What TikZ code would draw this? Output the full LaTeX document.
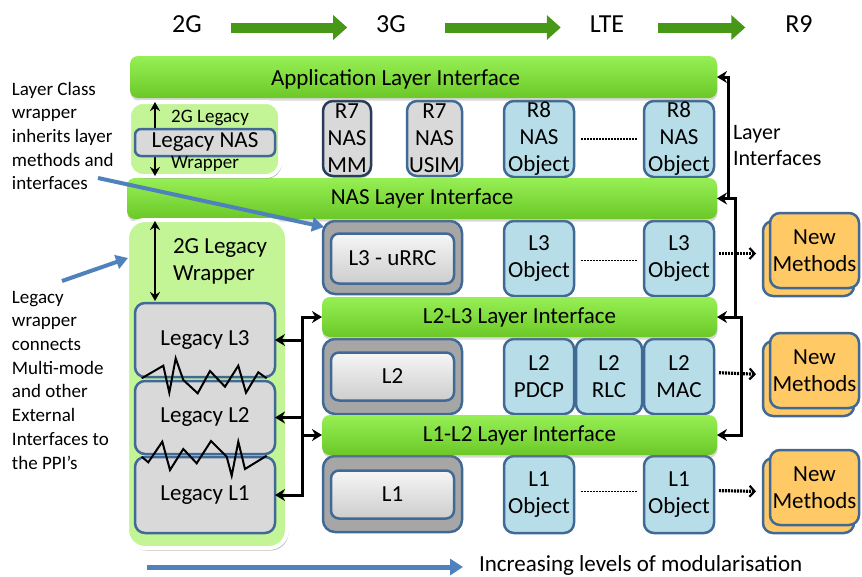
\documentclass[tikz,border=0pt]{standalone}
\usepackage{fontspec}
\setmainfont{Carlito}
\usetikzlibrary{arrows.meta,shadows,calc}
\definecolor{barTop}{RGB}{150,240,85}
\definecolor{barBot}{RGB}{108,200,40}
\definecolor{bordBlue}{RGB}{65,105,150}
\definecolor{mmBorder}{RGB}{40,60,90}
\definecolor{grayFill}{RGB}{217,217,217}
\definecolor{darkGray}{RGB}{166,166,166}
\definecolor{innerTop}{RGB}{246,246,246}
\definecolor{innerBot}{RGB}{205,205,205}
\definecolor{objBlue}{RGB}{183,222,232}
\definecolor{wrapGreen}{RGB}{195,245,150}
\definecolor{nmOrange}{RGB}{255,201,102}
\definecolor{arrBlue}{RGB}{79,129,189}
\definecolor{arrGreen}{RGB}{72,152,24}
\begin{document}
\begin{tikzpicture}[x=1pt,y=-1pt,
  every node/.style={inner sep=0pt, outer sep=0pt, align=center,
    font=\fontsize{23}{27}\selectfont},
  bar/.style={rounded corners=8pt, top color=barTop, bottom color=barBot,
    drop shadow={shadow xshift=0.5pt, shadow yshift=-2.5pt, opacity=0.3}},
  obj/.style={rounded corners=10pt, fill=objBlue, draw=bordBlue, line width=2.5pt},
  gbox/.style={rounded corners=10pt, fill=grayFill, draw=bordBlue, line width=2.5pt},
  outerbox/.style={rounded corners=12pt, fill=darkGray, draw=bordBlue, line width=2.5pt},
  innerbox/.style={rounded corners=8pt, top color=innerTop, bottom color=innerBot,
    draw=bordBlue, line width=2.5pt},
  wrap/.style={rounded corners=14pt, fill=wrapGreen, draw=white, line width=4pt,
    drop shadow={shadow xshift=1.5pt, shadow yshift=-2.5pt, opacity=0.5, fill=black!55}},
  nm/.style={rounded corners=10pt, fill=nmOrange, draw=bordBlue, line width=2.5pt},
  conn/.style={line width=3pt, draw=black},
  tip/.tip={Stealth[length=10pt,width=12pt]},
  dblarrow/.style={line width=2.5pt, {Stealth[length=9pt,width=10pt]}-{Stealth[length=9pt,width=10pt]}},
  garrow/.style={line width=10pt, draw=arrGreen, -{Triangle[length=14pt,width=24pt]}},
  barrow/.style={line width=4pt, draw=arrBlue, -{Triangle[length=12pt,width=14pt]}},
  dots/.style={line width=1.8pt, dash pattern=on 1.5pt off 1.5pt},
  darrow/.style={line width=3.2pt, dash pattern=on 2pt off 1pt, -{Straight Barb[length=5pt,width=11pt,line width=2.2pt]}},
  zig/.style={line width=2pt, line join=miter},
  ann/.style={align=left, font=\fontsize{19}{23.7}\selectfont}
]
\useasboundingbox (0,0) rectangle (862,576);
\fill[white] (0,0) rectangle (862,576);

% top evolution labels
\node[font=\fontsize{26}{30}\selectfont] (t2G) at (187,24.5) {2G};
\node[font=\fontsize{26}{30}\selectfont] (t3G) at (391,24.5) {3G};
\node[font=\fontsize{26}{30}\selectfont] (tLTE) at (607,24.5) {LTE};
\node[font=\fontsize{26}{30}\selectfont] (tR9) at (799,24.5) {R9};
\draw[garrow, shorten <=29pt, shorten >=29pt] ([yshift=-3pt]t2G.east) -- ([yshift=-3pt]t3G.west);
\draw[garrow, shorten <=39pt, shorten >=29pt] ([yshift=-3pt]t3G.east) -- ([yshift=-3pt]tLTE.west);
\draw[garrow, shorten <=34pt, shorten >=40pt] ([yshift=-3pt]tLTE.east) -- ([yshift=-3pt]tR9.west);

% object boxes
\node[gbox, draw=mmBorder, minimum width=48pt, minimum height=75pt,
  drop shadow={shadow xshift=1pt, shadow yshift=-2pt, opacity=0.3}] (r7mm) at (347,138.5) {R7\\NAS\\MM};
\node[gbox, minimum width=55pt, minimum height=75pt] (r7usim) at (434.5,138.5) {R7\\NAS\\USIM};
\node[obj, minimum width=70pt, minimum height=76pt] (r8a) at (539,139) {R8\\NAS\\Object};
\node[obj, minimum width=70pt, minimum height=76pt] (r8b) at (679,139) {R8\\NAS\\Object};

\node[outerbox, minimum width=139pt, minimum height=73pt] (urrco) at (392.5,257.5) {};
\node[innerbox, minimum width=123pt, minimum height=50pt] (urrc) at (392.5,258.5) {L3 - uRRC};
\node[obj, minimum width=70pt, minimum height=75pt] (l3a) at (539,258.5) {L3\\Object};
\node[obj, minimum width=70pt, minimum height=75pt] (l3b) at (679,258.5) {L3\\Object};

\node[outerbox, minimum width=139pt, minimum height=75pt] (l2o) at (392.5,376.5) {};
\node[innerbox, minimum width=123pt, minimum height=48pt] (l2) at (392.5,376.5) {L2};
\node[obj, minimum width=70pt, minimum height=75pt] (l2pdcp) at (539,376.5) {L2\\PDCP};
\node[obj, minimum width=66pt, minimum height=75pt] (l2rlc) at (609,376.5) {L2\\RLC};
\node[obj, minimum width=70pt, minimum height=75pt] (l2mac) at (679,376.5) {L2\\MAC};

\node[outerbox, minimum width=139pt, minimum height=76pt] (l1o) at (392.5,494) {};
\node[innerbox, minimum width=123pt, minimum height=48pt] (l1) at (392.5,494.5) {L1};
\node[obj, minimum width=70pt, minimum height=77pt] (l1a) at (539,494.5) {L1\\Object};
\node[obj, minimum width=70pt, minimum height=77pt] (l1b) at (679,494.5) {L1\\Object};

\draw[dots, shorten <=7pt, shorten >=7pt] (r8a.east) -- (r8b.west);
\draw[dots, shorten <=7pt, shorten >=7pt] ([yshift=-2pt]l3a.east) -- ([yshift=-2pt]l3b.west);
\draw[dots, shorten <=7pt, shorten >=7pt] ([yshift=3pt]l1a.east) -- ([yshift=3pt]l1b.west);

% interface bars
\node[bar, minimum width=587pt, minimum height=42pt] (appbar) at (423.5,77) {};
\node (apptext) at (395.5,79) {Application Layer Interface};
\node[bar, minimum width=590pt, minimum height=41pt] (nasbar) at (422,198.5) {NAS Layer Interface};
\node[bar, minimum width=395pt, minimum height=40pt] (l23bar) at (519.5,317) {L2-L3 Layer Interface};
\node[bar, minimum width=395pt, minimum height=40pt] (l12bar) at (519.5,435) {L1-L2 Layer Interface};

% small legacy NAS wrapper
\node[wrap, minimum width=151pt, minimum height=74pt] (swrap) at (204.5,139) {};
\coordinate (sa1) at (155,102);
\coordinate (sa2) at (155,176);
\draw[dblarrow] (sa1) -- (sa2);
\node[font=\fontsize{19}{22}\selectfont] (swt1) at (210,118) {2G Legacy};
\node[gbox, rounded corners=6pt, minimum width=140pt, minimum height=27pt] (lnas) at (205,142.5) {Legacy NAS};
\node[font=\fontsize{19}{22}\selectfont] (swt2) at (205,164) {Wrapper};

% big legacy wrapper
\node[wrap, rounded corners=18pt, minimum width=160pt, minimum height=328pt] (bwrap) at (207,384) {};
\coordinate (ba1) at (155,221);
\coordinate (ba2) at (155,301);
\draw[dblarrow] (ba1) -- (ba2);
\node[anchor=west, align=left] (bwt) at (173,261) {2G Legacy\\Wrapper};
\node[gbox, minimum width=140pt, minimum height=76pt] (legL1) at (205,495) {Legacy L1};
\node[gbox, minimum width=140pt, minimum height=73pt] (legL2) at (205,417.5) {Legacy L2};
\node[gbox, minimum width=140pt, minimum height=74pt] (legL3) at (205,340) {Legacy L3};
\draw[zig] (141.7,378.3) -- (163.3,365.7) -- (169.3,392.7) -- (175.7,358.3) -- (183.3,380)
  -- (197.7,393.3) -- (210,371) -- (225,386.7) -- (238.3,365.7) -- (246,392.7)
  -- (258.3,372.3) -- (266.7,378.3);
\draw[zig] (141.7,456.7) -- (148.3,462.3) -- (162.3,441.7) -- (170,470) -- (183.3,449)
  -- (196.7,463.3) -- (211,441) -- (226.7,456.7) -- (231.7,475.7) -- (238.3,441.7)
  -- (245,469) -- (266.7,455.7);

% left connectors
\coordinate (lv) at (302,0);
\draw[conn, tip-tip] (legL1.east) -- (lv |- legL1.east) -- (lv |- l23bar.west) -- (l23bar.west);
\draw[conn, -tip] (lv |- legL3.east) -- (legL3.east);
\draw[conn, -tip] (lv |- legL2.east) -- (legL2.east);
\draw[conn, -tip] (lv |- l12bar.west) -- (l12bar.west);

% right connectors
\coordinate (v1) at (728,0);
\coordinate (v2) at (735,0);
\coordinate (v3) at (741,0);
\draw[conn, tip-tip] (appbar.east) -| (v1 |- nasbar.east) -| (v2 |- l23bar.east)
  -| (v3 |- l12bar.east) -- (l12bar.east);
\draw[conn, -tip] (v1 |- nasbar.east) -- (nasbar.east);
\draw[conn, -tip] (v2 |- l23bar.east) -- (l23bar.east);
\node[anchor=west, align=left, font=\fontsize{22}{26}\selectfont] (layint) at (733,146) {Layer\\Interfaces};

% new methods
\node[nm, minimum width=91pt, minimum height=75pt] (nm1b) at (808.5,258.5) {};
\node[nm, minimum width=89pt, minimum height=75pt] (nm1) at (814.5,250.5) {New\\Methods};
\node[nm, minimum width=91pt, minimum height=75pt] (nm2b) at (808.5,378.5) {};
\node[nm, minimum width=89pt, minimum height=75pt] (nm2) at (814.5,370.5) {New\\Methods};
\node[nm, minimum width=91pt, minimum height=75pt] (nm3b) at (808.5,495.5) {};
\node[nm, minimum width=89pt, minimum height=75pt] (nm3) at (814.5,487.5) {New\\Methods};
\draw[darrow, shorten <=5pt, shorten >=7pt] ([yshift=5pt]l3b.east) -- ([yshift=5pt]nm1b.west);
\draw[darrow, shorten <=5pt, shorten >=7pt] ([yshift=4pt]l2mac.east) -- ([yshift=4pt]nm2b.west);
\draw[darrow, shorten <=5pt, shorten >=7pt] ([yshift=4pt]l1b.east) -- ([yshift=4pt]nm3b.west);

% annotations
\node[ann, anchor=north west] (ann1) at (12,82) {Layer Class\\wrapper\\inherits layer\\methods and\\interfaces};
\node[ann, anchor=north west] (ann2) at (12,291) {Legacy\\wrapper\\connects\\Multi-mode\\and other\\External\\Interfaces to\\the PPI’s};
\coordinate (a1s) at (98,178);
\draw[barrow] (a1s) -- ($(urrco.north west)+(1,6)$);
\coordinate (a2s) at (62,281);
\draw[barrow] (a2s) -- ($(bwrap.north west)+(1,38)$);

% bottom
\node[anchor=west, font=\fontsize{23}{27}\selectfont] (inc) at (479,565) {Increasing levels of modularisation};
\coordinate (bs) at (147,567);
\draw[barrow, line width=5pt, -{Triangle[length=13pt,width=16pt]}, shorten >=16pt] (bs) -- (inc.west |- bs);
\end{tikzpicture}
\end{document}
